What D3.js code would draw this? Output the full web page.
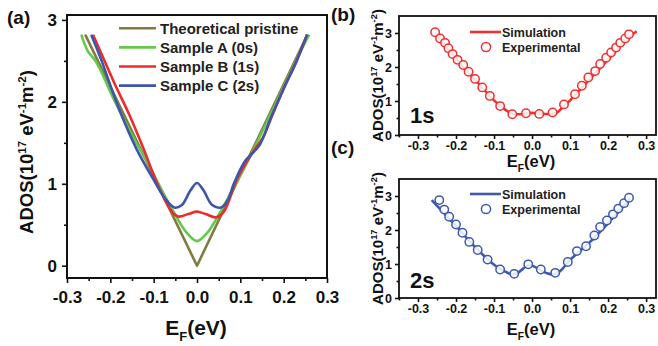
<!DOCTYPE html>
<html>
<head>
<meta charset="utf-8">
<script src="https://cdn.jsdelivr.net/npm/d3@7"></script>
<style>
  body { margin: 0; background: #fff; }
  svg { display: block; font-family: "Liberation Sans", Arial, sans-serif; font-weight: bold; }
</style>
</head>
<body>
<div id="chart"></div>
<script>
// ---- data (a) ----
var seriesNames = ["Theoretical pristine", "Sample A (0s)", "Sample B (1s)", "Sample C (2s)"];
var seriesColors = ["#807b3e", "#64c84c", "#ee2b2b", "#3d55ab"];

var pristineX = [-0.258, 0, 0.255];
var pristineY = [2.82, 0, 2.82];

var sampleAX = [-0.267, -0.252, -0.233, -0.215, -0.2, -0.17, -0.14, -0.11, -0.08, -0.05, -0.025, 0, 0.025, 0.05, 0.08, 0.11, 0.14, 0.17, 0.2, 0.23, 0.259];
var sampleAY = [2.82, 2.62, 2.49, 2.3, 2.12, 1.8, 1.5, 1.22, 0.91, 0.62, 0.41, 0.3, 0.41, 0.62, 0.91, 1.2, 1.52, 1.85, 2.18, 2.52, 2.82];

var sampleBX = [-0.24, -0.215, -0.19, -0.156, -0.125, -0.094, -0.07, -0.055, -0.043, -0.02, 0, 0.02, 0.044, 0.062, 0.09, 0.115, 0.136, 0.152, 0.174, 0.2, 0.23, 0.254];
var sampleBY = [2.82, 2.52, 2.22, 1.84, 1.45, 1.03, 0.76, 0.64, 0.6, 0.63, 0.66, 0.63, 0.59, 0.66, 1.03, 1.27, 1.44, 1.56, 1.84, 2.16, 2.5, 2.82];

var sampleCX = [-0.244, -0.22, -0.2, -0.179, -0.14, -0.098, -0.075, -0.052, -0.035, -0.015, 0, 0.015, 0.035, 0.055, 0.07, 0.085, 0.11, 0.144, 0.17, 0.2, 0.23, 0.254];
var sampleCY = [2.82, 2.5, 2.2, 1.9, 1.43, 1.03, 0.83, 0.71, 0.74, 0.92, 1.01, 0.92, 0.74, 0.71, 0.79, 1.0, 1.27, 1.47, 1.8, 2.16, 2.5, 2.82];

// ---- data (b) 1s ----
var simBX = [-0.255, -0.2, -0.15, -0.1, -0.07, -0.05, -0.02, 0, 0.02, 0.05, 0.065, 0.085, 0.1, 0.15, 0.2, 0.25, 0.275];
var simBY = [3.0, 2.25, 1.63, 1.02, 0.74, 0.62, 0.62, 0.65, 0.63, 0.62, 0.66, 0.86, 1.02, 1.62, 2.22, 2.82, 3.05];
var expBX = [-0.255, -0.242, -0.229, -0.22, -0.209, -0.196, -0.181, -0.167, -0.15, -0.131, -0.111, -0.084, -0.052, -0.016, 0.019, 0.054, 0.084, 0.113, 0.131, 0.148, 0.166, 0.179, 0.195, 0.208, 0.221, 0.232, 0.245, 0.255];
var expBY = [3.02, 2.84, 2.71, 2.55, 2.38, 2.21, 2.06, 1.86, 1.65, 1.4, 1.15, 0.85, 0.61, 0.64, 0.62, 0.66, 0.9, 1.2, 1.45, 1.69, 1.88, 2.09, 2.27, 2.43, 2.57, 2.71, 2.84, 2.96];

// ---- data (c) 2s ----
var simCX = [-0.264, -0.2, -0.15, -0.1, -0.075, -0.055, -0.04, -0.025, -0.01, 0.005, 0.025, 0.045, 0.06, 0.075, 0.1, 0.15, 0.2, 0.258];
var simCY = [2.88, 2.12, 1.5, 0.98, 0.8, 0.7, 0.72, 0.85, 0.97, 0.93, 0.8, 0.71, 0.7, 0.8, 1.12, 1.62, 2.2, 2.92];
var expCX = [-0.244, -0.231, -0.218, -0.2, -0.183, -0.165, -0.143, -0.117, -0.084, -0.047, -0.01, 0.023, 0.061, 0.094, 0.118, 0.142, 0.164, 0.179, 0.197, 0.213, 0.227, 0.242, 0.255];
var expCY = [2.88, 2.6, 2.39, 2.16, 1.92, 1.65, 1.41, 1.13, 0.84, 0.71, 0.99, 0.84, 0.74, 1.06, 1.38, 1.52, 1.84, 2.09, 2.28, 2.46, 2.63, 2.79, 2.95];

// ---- ticks ----
var xTicks = [-0.3, -0.2, -0.1, 0, 0.1, 0.2, 0.3];
var xMinor = [-0.35, -0.25, -0.15, -0.05, 0.05, 0.15, 0.25];
var yTicksA = [0, 1, 2, 3];
var yMinorA = [0.5, 1.5, 2.5];
var yTicksB = [0, 1, 2, 3];
var yMinorB = [0.5, 1.5, 2.5];

var W = 658, H = 346;
var svg = d3.select("#chart").append("svg").attr("width", W).attr("height", H);

function zip(xs, ys) {
    return xs.map(function(x, i) { return [x, ys[i]]; });
}
function fmt(d) { return d.toFixed(1); }

// text with sub/superscripts
function richText(g, parts, size) {
    var t = g.append("text").attr("font-size", size + "px");
    var shift = 0;
    parts.forEach(function(p) {
        var sp = t.append("tspan").text(p.t);
        var target = 0;
        if (p.sup) { target = -size * 0.4; sp.attr("font-size", (size * 0.62) + "px"); }
        if (p.sub) { target = size * 0.3; sp.attr("font-size", (size * 0.62) + "px"); }
        if (target - shift != 0) sp.attr("dy", target - shift);
        shift = target;
    });
    return t;
}

var yTitleParts = [{t: "ADOS(10"}, {t: "17", sup: true}, {t: " eV"}, {t: "-1", sup: true}, {t: "m"}, {t: "-2", sup: true}, {t: ")"}];
var xTitleParts = [{t: "E"}, {t: "F", sub: true}, {t: "(eV)"}];

function drawFrame(x, y, opt) {
    var g = svg.append("g");
    var r = x.range(), rr = y.range();
    // minor ticks
    g.append("g").attr("transform", "translate(0," + rr[0] + ")")
        .call(d3.axisBottom(x).tickValues(xMinor.filter(function(d) { return d >= x.domain()[0] && d <= x.domain()[1]; }))
            .tickSize(opt.minor).tickFormat("").tickSizeOuter(0))
        .call(function(a) { a.select(".domain").remove(); });
    g.append("g").attr("transform", "translate(" + r[0] + ",0)")
        .call(d3.axisLeft(y).tickValues(opt.yMinor).tickSize(opt.minor).tickFormat("").tickSizeOuter(0))
        .call(function(a) { a.select(".domain").remove(); });
    // major
    var xa = g.append("g").attr("transform", "translate(0," + rr[0] + ")")
        .call(d3.axisBottom(x).tickValues(xTicks).tickSize(opt.major).tickPadding(opt.xPad).tickFormat(fmt).tickSizeOuter(0));
    xa.select(".domain").remove();
    xa.selectAll("text").attr("font-size", opt.tickFont + "px").attr("font-family", "Liberation Sans, Arial, sans-serif").attr("font-weight", "bold").attr("fill", "#111");
    var ya = g.append("g").attr("transform", "translate(" + r[0] + ",0)")
        .call(d3.axisLeft(y).tickValues(opt.yTicks).tickSize(opt.major).tickPadding(opt.yPad).tickFormat(d3.format("d")).tickSizeOuter(0));
    ya.select(".domain").remove();
    ya.selectAll("text").attr("font-size", opt.tickFont + "px").attr("font-family", "Liberation Sans, Arial, sans-serif").attr("font-weight", "bold").attr("fill", "#111");
    g.selectAll(".tick line").attr("stroke", "#111").attr("stroke-width", 1.6);
    g.append("rect")
        .attr("x", r[0]).attr("y", rr[1])
        .attr("width", r[1] - r[0]).attr("height", rr[0] - rr[1])
        .attr("fill", "none").attr("stroke", "#111").attr("stroke-width", opt.frame);
}

// ================= panel (a) =================
var xA = d3.scaleLinear().domain([-0.3, 0.3]).range([67, 327]);
var yA = d3.scaleLinear().domain([-0.15, 3.06]).range([278, 15]);

drawFrame(xA, yA, {major: 5, minor: 3, xPad: 8, yPad: 5, tickFont: 17, frame: 2, yTicks: yTicksA, yMinor: yMinorA});

var lineA = d3.line().x(function(d) { return xA(d[0]); }).y(function(d) { return yA(d[1]); }).curve(d3.curveCatmullRom.alpha(0.5));
var lineLin = d3.line().x(function(d) { return xA(d[0]); }).y(function(d) { return yA(d[1]); });

var curvesA = [
    {pts: zip(pristineX, pristineY), lin: true},
    {pts: zip(sampleAX, sampleAY)},
    {pts: zip(sampleBX, sampleBY)},
    {pts: zip(sampleCX, sampleCY)}
];
curvesA.forEach(function(c, i) {
    svg.append("path")
        .attr("d", c.lin ? lineLin(c.pts) : lineA(c.pts))
        .attr("fill", "none")
        .attr("stroke", seriesColors[i])
        .attr("stroke-width", 2.6)
        .attr("stroke-linejoin", "round");
});

// legend (a)
var legA = svg.append("g");
seriesNames.forEach(function(name, i) {
    var yy = 28.3 + i * 19.1;
    legA.append("line").attr("x1", 119).attr("x2", 156).attr("y1", yy).attr("y2", yy)
        .attr("stroke", seriesColors[i]).attr("stroke-width", 2.6);
    legA.append("text").attr("x", 160).attr("y", yy + 5.5).attr("font-size", "15px").attr("fill", "#222").text(name);
});

// titles (a)
var xtA = richText(svg.append("g"), xTitleParts, 21);
xtA.attr("x", 196).attr("y", 335).attr("text-anchor", "middle").attr("fill", "#111");
var ytA = richText(svg.append("g").attr("transform", "translate(33,152) rotate(-90)"), yTitleParts, 18.5);
ytA.attr("text-anchor", "middle").attr("fill", "#111");
svg.append("text").attr("x", 7).attr("y", 24).attr("font-size", "19px").attr("fill", "#111").text("(a)");

// ================= panels (b), (c) =================
var xB = d3.scaleLinear().domain([-0.35, 0.326]).range([399, 656]);
var yB = d3.scaleLinear().domain([0, 3.5]).range([135, 16]);
var yC = d3.scaleLinear().domain([0, 3.5]).range([298, 179]);

function smallPanel(y, simPts, expPts, color, tag, label, legY, labelY, titleY, letterY) {
    drawFrame(xB, y, {major: 4, minor: 2.5, xPad: 2, yPad: 3, tickFont: 12.5, frame: 1.8, yTicks: yTicksB, yMinor: yMinorB});
    var ln = d3.line().x(function(d) { return xB(d[0]); }).y(function(d) { return y(d[1]); }).curve(d3.curveCatmullRom.alpha(0.5));
    svg.append("path").attr("d", ln(simPts)).attr("fill", "none")
        .attr("stroke", color).attr("stroke-width", 2.6).attr("stroke-linejoin", "round");
    svg.append("g").selectAll("circle").data(expPts).enter().append("circle")
        .attr("cx", function(d) { return xB(d[0]); })
        .attr("cy", function(d) { return y(d[1]); })
        .attr("r", 4.2)
        .attr("fill", "#fff").attr("fill-opacity", 0.85)
        .attr("stroke", color).attr("stroke-width", 1.5);
    // legend
    svg.append("line").attr("x1", 470).attr("x2", 501).attr("y1", legY).attr("y2", legY)
        .attr("stroke", color).attr("stroke-width", 2.6);
    svg.append("text").attr("x", 502).attr("y", legY + 4.5).attr("font-size", "12.5px").attr("fill", "#222").text("Simulation");
    svg.append("circle").attr("cx", 486).attr("cy", legY + 15).attr("r", 4.6)
        .attr("fill", "#fff").attr("stroke", color).attr("stroke-width", 1.5);
    svg.append("text").attr("x", 502).attr("y", legY + 19.5).attr("font-size", "12.5px").attr("fill", "#222").text("Experimental");
    // labels
    svg.append("text").attr("x", 410).attr("y", labelY).attr("font-size", "22px").attr("fill", "#111").text(label);
    var xt = richText(svg.append("g"), xTitleParts, 16.5);
    xt.attr("x", 531).attr("y", titleY).attr("text-anchor", "middle").attr("fill", "#111");
    var mid = (y.range()[0] + y.range()[1]) / 2;
    var yt = richText(svg.append("g").attr("transform", "translate(383," + mid + ") rotate(-90)"), yTitleParts, 15);
    yt.attr("text-anchor", "middle").attr("fill", "#111");
    svg.append("text").attr("x", 331).attr("y", letterY).attr("font-size", "19px").attr("fill", "#111").text(tag);
}

smallPanel(yB, zip(simBX, simBY), zip(expBX, expBY), "#ee3030", "(b)", "1s", 32, 123, 167, 21);
smallPanel(yC, zip(simCX, simCY), zip(expCX, expCY), "#3d5aab", "(c)", "2s", 194, 288, 335, 154);
</script>
</body>
</html>
